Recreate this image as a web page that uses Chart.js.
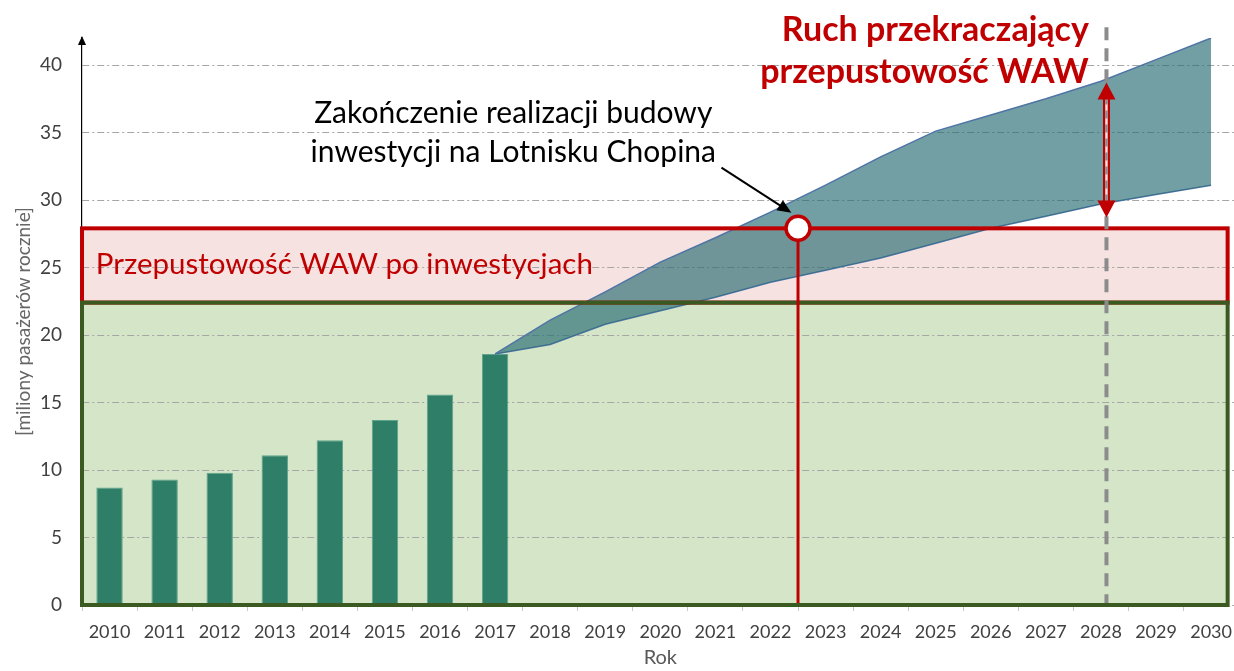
<!DOCTYPE html>
<html lang="pl">
<head>
<meta charset="UTF-8">
<title>Ruch pasażerski WAW</title>
<style>
  html, body { margin: 0; padding: 0; background: #fff; overflow: hidden; }
  #wrap { width: 1242px; height: 671px; }
</style>
</head>
<body>
<div id="wrap"><canvas id="myChart" width="1242" height="671"></canvas></div>

<script src="https://cdn.jsdelivr.net/npm/chart.js@4/dist/chart.umd.min.js"></script>
<script>
// --- data (millions of passengers per year) ---
const years = ['2010', '2011', '2012', '2013', '2014', '2015', '2016', '2017', '2018', '2019',
  '2020', '2021', '2022', '2023', '2024', '2025', '2026', '2027', '2028', '2029', '2030'];
const passengers = [8.7, 9.3, 9.8, 11.1, 12.2, 13.7, 15.6, 18.6,
  null, null, null, null, null, null, null, null, null, null, null, null, null];
const forecastHigh = [null, null, null, null, null, null, null, 18.6,
  21.1, 23.2, 25.4, 27.2, 29.1, 31.1, 33.2, 35.1, 36.3, 37.5, 38.8, 40.4, 42.0];
const forecastLow = [null, null, null, null, null, null, null, 18.6,
  19.3, 20.8, 21.8, 22.8, 23.9, 24.8, 25.7, 26.8, 27.9, 28.8, 29.7, 30.4, 31.1];
const capacityNow = 22.4;     // green box top
const capacityAfter = 27.9;   // red box top
const investmentEnd = 12.5;   // category index (mid 2022/2023)
const overflowYear = 18.1;    // category index (~2028)
const overflowFrom = 38.7;
const overflowTo = 28.7;
const yMax = 42;
const yStep = 5;

const RED = '#c00000';
const FONT = 'Lato, "Open Sans", sans-serif';

function arrowHead(ctx, x1, y1, x2, y2, len, half, color) {
  const a = Math.atan2(y2 - y1, x2 - x1);
  ctx.save();
  ctx.fillStyle = color;
  ctx.beginPath();
  ctx.moveTo(x2, y2);
  ctx.lineTo(x2 - len * Math.cos(a) + half * Math.sin(a), y2 - len * Math.sin(a) - half * Math.cos(a));
  ctx.lineTo(x2 - len * Math.cos(a) - half * Math.sin(a), y2 - len * Math.sin(a) + half * Math.cos(a));
  ctx.closePath();
  ctx.fill();
  ctx.restore();
}

const overlay = {
  id: 'overlay',
  beforeDraw(chart) {
    const {ctx, scales: {x, y}} = chart;
    const l = x.getPixelForValue(-0.5), r = x.getPixelForValue(20.3);
    ctx.save();
    ctx.fillStyle = '#d5e6c8';
    ctx.fillRect(l, y.getPixelForValue(capacityNow), r - l, y.getPixelForValue(0) - y.getPixelForValue(capacityNow));
    ctx.fillStyle = '#f7e2e2';
    ctx.fillRect(l, y.getPixelForValue(capacityAfter), r - l, y.getPixelForValue(capacityNow) - y.getPixelForValue(capacityAfter));
    ctx.restore();
  },
  afterDatasetsDraw(chart) {
    const {ctx, scales: {x, y}, chartArea} = chart;
    const l = x.getPixelForValue(-0.5), r = x.getPixelForValue(20.3);
    const y0 = y.getPixelForValue(0);
    const yNow = y.getPixelForValue(capacityNow);
    const yAfter = y.getPixelForValue(capacityAfter);
    ctx.save();

    // capacity boxes
    ctx.lineWidth = 4;
    ctx.strokeStyle = RED;
    ctx.strokeRect(l, yAfter, r - l, yNow - yAfter);
    ctx.strokeStyle = '#3b5a22';
    ctx.strokeRect(l, yNow, r - l, y0 - yNow);

    // investment end marker
    const xi = x.getPixelForValue(investmentEnd);
    ctx.strokeStyle = RED;
    ctx.lineWidth = 3;
    ctx.beginPath(); ctx.moveTo(xi, yAfter); ctx.lineTo(xi, y0 - 2); ctx.stroke();
    ctx.beginPath(); ctx.arc(xi, yAfter, 12, 0, Math.PI * 2);
    ctx.fillStyle = '#fff'; ctx.fill();
    ctx.lineWidth = 3.5; ctx.stroke();

    // overflow year dashed line
    const xo = x.getPixelForValue(overflowYear);
    ctx.strokeStyle = '#8c8c8c';
    ctx.lineWidth = 4;
    ctx.setLineDash([13, 8]);
    ctx.beginPath(); ctx.moveTo(xo, y.getPixelForValue(42.8)); ctx.lineTo(xo, y0 - 2); ctx.stroke();
    ctx.setLineDash([]);

    // double red arrow
    const ya = y.getPixelForValue(overflowFrom), yb = y.getPixelForValue(overflowTo);
    ctx.strokeStyle = RED;
    ctx.lineWidth = 7;
    ctx.beginPath(); ctx.moveTo(xo, ya + 14); ctx.lineTo(xo, yb - 14); ctx.stroke();
    ctx.strokeStyle = '#f3e3e3';
    ctx.lineWidth = 2.5;
    ctx.beginPath(); ctx.moveTo(xo, ya + 14); ctx.lineTo(xo, yb - 14); ctx.stroke();
    ctx.strokeStyle = '#8c8c8c';
    ctx.setLineDash([8, 6]);
    ctx.beginPath(); ctx.moveTo(xo, ya + 14); ctx.lineTo(xo, yb - 14); ctx.stroke();
    ctx.setLineDash([]);
    arrowHead(ctx, xo, ya + 20, xo, ya, 17, 9, RED);
    arrowHead(ctx, xo, yb - 20, xo, yb, 17, 9, RED);

    // y axis arrow tip
    arrowHead(ctx, chartArea.left, chartArea.top + 20, chartArea.left, chartArea.top - 2, 9, 4, '#000');

    // callout arrow
    const ax1 = x.getPixelForValue(11.11), ay1 = y.getPixelForValue(32.4);
    const ax2 = x.getPixelForValue(12.38), ay2 = y.getPixelForValue(29.05);
    ctx.strokeStyle = '#000';
    ctx.lineWidth = 2;
    ctx.beginPath(); ctx.moveTo(ax1, ay1); ctx.lineTo(ax2 - (ax2 - ax1) * 0.12, ay2 - (ay2 - ay1) * 0.12); ctx.stroke();
    arrowHead(ctx, ax1, ay1, ax2, ay2, 14, 6, '#000');

    // texts
    ctx.textBaseline = 'middle';
    ctx.fillStyle = '#000';
    ctx.textAlign = 'center';
    ctx.font = '30px ' + FONT;
    ctx.fillText('Zakończenie realizacji budowy', x.getPixelForValue(7.33), y.getPixelForValue(36.4));
    ctx.fillText('inwestycji na Lotnisku Chopina', x.getPixelForValue(7.33), y.getPixelForValue(33.5));

    ctx.fillStyle = RED;
    ctx.textAlign = 'left';
    ctx.font = '29.5px ' + FONT;
    ctx.fillText('Przepustowość WAW po inwestycjach', x.getPixelForValue(-0.25), y.getPixelForValue(25.2));

    ctx.textAlign = 'right';
    ctx.font = 'bold 34px ' + FONT;
    ctx.fillText('Ruch przekraczający', x.getPixelForValue(17.78), y.getPixelForValue(42.6));
    ctx.fillText('przepustowość WAW', x.getPixelForValue(17.78), y.getPixelForValue(39.5));
    ctx.restore();
  }
};

const config = {
  type: 'bar',
  data: {
    labels: years,
    datasets: [
      {
        label: 'Ruch',
        data: passengers,
        backgroundColor: '#2f7f68',
        borderColor: '#5fa58c',
        borderWidth: {top: 1, left: 1, right: 1, bottom: 0},
        barPercentage: 0.48,
        categoryPercentage: 1,
        order: 2
      },
      {
        type: 'line',
        label: 'Prognoza max',
        data: forecastHigh,
        borderColor: '#4f74a6',
        borderWidth: 1.5,
        backgroundColor: 'rgba(38, 108, 114, 0.65)',
        fill: '+1',
        pointRadius: 0,
        tension: 0,
        order: 1
      },
      {
        type: 'line',
        label: 'Prognoza min',
        data: forecastLow,
        borderColor: '#4f74a6',
        borderWidth: 1.5,
        pointRadius: 0,
        tension: 0,
        fill: false,
        order: 1
      }
    ]
  },
  options: {
    responsive: false,
    animation: false,
    layout: { padding: { top: 38, right: 0, left: 0, bottom: 0 } },
    plugins: {
      legend: { display: false },
      tooltip: { enabled: false }
    },
    scales: {
      x: {
        afterFit: s => { s.height = 66; },
        grid: {
          display: true,
          drawOnChartArea: false,
          drawTicks: true,
          tickLength: 6,
          color: '#c8c8c8'
        },
        border: { display: false },
        ticks: {
          color: '#404040',
          font: { family: FONT, size: 18 },
          padding: 10,
          maxRotation: 0,
          autoSkip: false
        },
        title: {
          display: true,
          text: 'Rok',
          color: '#595959',
          font: { family: FONT, size: 20 },
          padding: { top: 0, bottom: 1 }
        }
      },
      y: {
        min: 0,
        max: yMax,
        afterFit: s => { s.width = 82; },
        ticks: {
          stepSize: yStep,
          includeBounds: false,
          color: '#404040',
          font: { family: FONT, size: 19 },
          padding: 20
        },
        grid: {
          drawTicks: false,
          color: '#a6a6a6',
          lineWidth: 1
        },
        border: { display: true, color: '#000', width: 1.2, dash: [7, 3, 2, 3] },
        title: {
          display: true,
          text: '[miliony pasażerów rocznie]',
          color: '#666666',
          font: { family: FONT, size: 19 },
          padding: { top: 12, bottom: 0 }
        }
      }
    }
  },
  plugins: [overlay]
};

const myChart = new Chart(document.getElementById('myChart'), config);
</script>
</body>
</html>
